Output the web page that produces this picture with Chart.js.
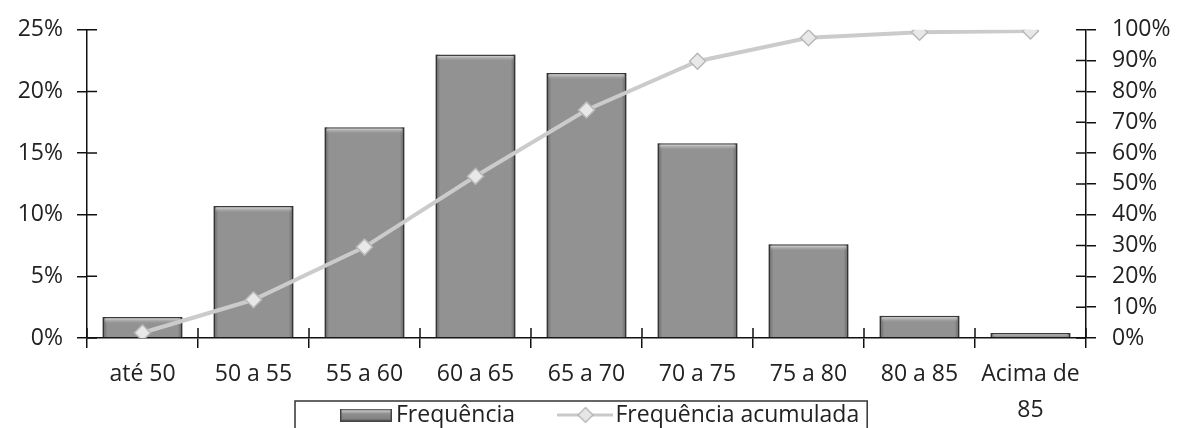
<!DOCTYPE html>
<html>
<head>
<meta charset="utf-8">
<script src="https://cdn.jsdelivr.net/npm/chart.js@4"></script>
<style>
  html, body { margin: 0; padding: 0; background: #fff; }
  #wrap { width: 1188px; height: 428px; position: relative; }
</style>
</head>
<body>
<div id="wrap"><canvas id="c" width="1188" height="428"></canvas></div>
<script>
// ---- data ----
const categories = ['até 50', '50 a 55', '55 a 60', '60 a 65', '65 a 70', '70 a 75', '75 a 80', '80 a 85', ['Acima de', '85']];
const frequencia = [1.7, 10.7, 17.1, 23.0, 21.5, 15.8, 7.6, 1.8, 0.4];
const frequenciaAcumulada = [1.7, 12.4, 29.5, 52.5, 74.0, 89.8, 97.4, 99.2, 99.6];
const leftTicks = [0, 5, 10, 15, 20, 25];
const rightTicks = [0, 10, 20, 30, 40, 50, 60, 70, 80, 90, 100];
const seriesNames = ['Frequência', 'Frequência acumulada'];

// ---- style constants ----
const FONT = "'Open Sans', 'Noto Sans', sans-serif";
const FS = 23;
const TEXT = '#222';
const AXIS = '#111';
const LEG_PAD = 52;
const LEG_BOX_W = 37;

Chart.defaults.font.family = FONT;
Chart.defaults.font.size = FS;
Chart.defaults.color = TEXT;

// legend swatches
function makeBarSwatch() {
  const c = document.createElement('canvas');
  c.width = 52; c.height = 13;
  const g = c.getContext('2d');
  const gr = g.createLinearGradient(0, 0, 0, 13);
  gr.addColorStop(0, '#f2f2f2'); gr.addColorStop(0.4, '#8f8f8f'); gr.addColorStop(1, '#7c7c7c');
  g.fillStyle = gr; g.fillRect(0, 0, 52, 13);
  g.strokeStyle = '#444'; g.lineWidth = 1.5; g.strokeRect(0.75, 0.75, 50.5, 11.5);
  return c;
}
function makeLineSwatch() {
  const c = document.createElement('canvas');
  c.width = 56; c.height = 18;
  const g = c.getContext('2d');
  g.strokeStyle = '#c9c9c9'; g.lineWidth = 3;
  g.beginPath(); g.moveTo(0, 9); g.lineTo(56, 9); g.stroke();
  g.fillStyle = '#e6e6e6'; g.strokeStyle = '#b0b0b0'; g.lineWidth = 1.2;
  g.beginPath(); g.moveTo(28, 1.5); g.lineTo(35.5, 9); g.lineTo(28, 16.5); g.lineTo(20.5, 9); g.closePath();
  g.fill(); g.stroke();
  return c;
}
const barSwatch = makeBarSwatch();
const lineSwatch = makeLineSwatch();

const decorPlugin = {
  id: 'decor',
  beforeLayout(chart) {
    // the legend sits beside the second line of the last x label: let it take no layout room
    const lg = chart.legend;
    if (lg && !lg.__patched) {
      const orig = lg.fit;
      lg.fit = function () { orig.call(this); this.__h = this.height; this.height = 0; };
      lg.__patched = true;
    }
  },
  afterLayout(chart) {
    const lg = chart.legend;
    if (!lg) return;
    const w = lg.right - lg.left;
    const firstX = 347.5;
    lg.left = firstX - LEG_PAD; lg.right = lg.left + w;
    lg.top = 415 - FS / 2 - LEG_PAD;
    lg.height = lg.__h;
    lg.bottom = lg.top + lg.__h;
  },
  afterDatasetDraw(chart, args) {
    if (args.index !== 0) return;
    const ctx = chart.ctx;
    const meta = chart.getDatasetMeta(0);
    ctx.save();
    meta.data.forEach(bar => {
      const left = bar.x - bar.width / 2, top = bar.y;
      const h = bar.base - bar.y;
      // soft darker side edges
      const side = ctx.createLinearGradient(left, 0, left + bar.width, 0);
      side.addColorStop(0, 'rgba(40,40,40,0.45)');
      side.addColorStop(0.06, 'rgba(40,40,40,0)');
      side.addColorStop(0.94, 'rgba(40,40,40,0)');
      side.addColorStop(1, 'rgba(40,40,40,0.45)');
      ctx.fillStyle = side;
      ctx.fillRect(left, top, bar.width, h);
      // light bevel on top
      const hh = Math.min(7, h);
      const gr = ctx.createLinearGradient(0, top, 0, top + hh);
      gr.addColorStop(0, 'rgba(248,248,248,0.95)');
      gr.addColorStop(1, 'rgba(150,150,150,0)');
      ctx.fillStyle = gr;
      ctx.fillRect(left + 2, top + 1.5, bar.width - 4, hh);
    });
    ctx.restore();
  },
  afterDraw(chart) {
    const ctx = chart.ctx;
    ctx.save();
    ctx.strokeStyle = AXIS; ctx.lineWidth = 1.5;
    const yl = chart.scales.y, yr = chart.scales.y1, x = chart.scales.x;
    ctx.beginPath();
    yl.ticks.forEach((t, i) => { const p = yl.getPixelForTick(i); ctx.moveTo(yl.right, p); ctx.lineTo(yl.right + 10, p); });
    yr.ticks.forEach((t, i) => { const p = yr.getPixelForTick(i); ctx.moveTo(yr.left, p); ctx.lineTo(yr.left - 10, p); });
    for (let i = 0; i <= categories.length; i++) {
      const p = x.getPixelForValue(i - 0.5);
      ctx.moveTo(p, x.top); ctx.lineTo(p, x.top - 10);
    }
    ctx.stroke();
    // legend frame
    const lg = chart.legend;
    const hb = lg.legendHitBoxes;
    if (hb && hb.length) {
      const last = hb[hb.length - 1];
      const l = hb[0].left - 52.5, r = last.left + last.width + 8;
      const t = hb[0].top + hb[0].height / 2 - 14;
      ctx.strokeStyle = '#333'; ctx.lineWidth = 1.5;
      ctx.strokeRect(l, t, r - l, 60);
    }
    ctx.restore();
  }
};

const ctx = document.getElementById('c').getContext('2d');
new Chart(ctx, {
  type: 'bar',
  data: {
    labels: categories,
    datasets: [
      {
        type: 'bar',
        label: seriesNames[0],
        data: frequencia,
        yAxisID: 'y',
        backgroundColor: '#929292',
        borderColor: '#3a3a3a',
        borderWidth: { top: 1.5, left: 2, right: 2, bottom: 0 },
        barPercentage: 0.72,
        categoryPercentage: 1.0,
        order: 2
      },
      {
        type: 'line',
        label: seriesNames[1],
        data: frequenciaAcumulada,
        yAxisID: 'y1',
        borderColor: '#cbcbcb',
        borderWidth: 4,
        tension: 0,
        pointStyle: 'rectRot',
        pointRadius: 8,
        pointBackgroundColor: '#e8e8e8',
        pointBorderColor: '#b8b8b8',
        pointBorderWidth: 1.5,
        order: 1
      }
    ]
  },
  options: {
    responsive: false,
    animation: false,
    devicePixelRatio: 1,
    layout: { padding: { top: 26, left: 0, right: 0, bottom: 0 } },
    plugins: {
      tooltip: { enabled: false },
      legend: {
        position: 'bottom',
        align: 'start',
        labels: {
          usePointStyle: true,
          pointStyleWidth: LEG_BOX_W,
          padding: LEG_PAD,
          color: TEXT,
          font: { size: FS },
          sort: (a, b) => a.datasetIndex - b.datasetIndex,
          generateLabels(chart) {
            const items = Chart.defaults.plugins.legend.labels.generateLabels(chart);
            items.forEach(it => { it.pointStyle = it.datasetIndex === 0 ? barSwatch : lineSwatch; });
            return items;
          }
        }
      }
    },
    scales: {
      x: {
        type: 'category',
        offset: true,
        grid: { offset: true, drawOnChartArea: false, drawTicks: true, tickLength: 10, color: AXIS, lineWidth: 1.5 },
        border: { display: true, color: AXIS, width: 1.5 },
        ticks: { color: TEXT, padding: 9, maxRotation: 0, autoSkip: false, font: { size: FS, lineHeight: 1.55 } },
        afterFit(s) { s.height = 428 - 338; }
      },
      y: {
        position: 'left',
        min: 0, max: 25,
        afterBuildTicks(s) { s.ticks = leftTicks.map(v => ({ value: v })); },
        grid: { drawOnChartArea: false, drawTicks: true, tickLength: 10, color: AXIS, lineWidth: 1.5 },
        border: { display: true, color: AXIS, width: 1.5 },
        ticks: { color: TEXT, padding: 14, callback: v => v + '%' },
        afterFit(s) { s.width = 87; }
      },
      y1: {
        position: 'right',
        min: 0, max: 100,
        afterBuildTicks(s) { s.ticks = rightTicks.map(v => ({ value: v })); },
        grid: { drawOnChartArea: false, drawTicks: true, tickLength: 10, color: AXIS, lineWidth: 1.5 },
        border: { display: true, color: AXIS, width: 1.5 },
        ticks: { color: TEXT, padding: 16, callback: v => v + '%' },
        afterFit(s) { s.width = 102; }
      }
    }
  },
  plugins: [decorPlugin]
});
</script>
</body>
</html>
